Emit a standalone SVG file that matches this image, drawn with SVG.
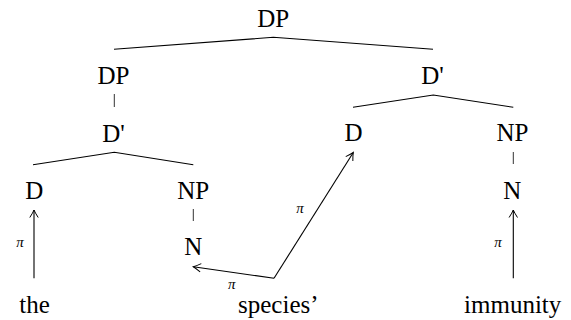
<svg xmlns="http://www.w3.org/2000/svg" width="571" height="320" viewBox="0 0 571 320">
<style>
.t{font-family:"Liberation Serif","DejaVu Serif",serif;font-size:25px;fill:#000;text-anchor:middle}
.p{font-family:"Liberation Serif","DejaVu Serif",serif;font-size:15px;font-style:italic;fill:#000;text-anchor:middle}
.e{stroke:#000;stroke-width:1.1;fill:none}
.k{stroke:#333;stroke-width:1;fill:none}
.a{stroke:#000;stroke-width:1.1;fill:none;marker-end:url(#ah)}
</style>
<defs>
<marker id="ah" markerUnits="userSpaceOnUse" markerWidth="20" markerHeight="20" viewBox="-10 -10 20 20" refX="0" refY="0" orient="auto">
<path d="M -7.5 -4.2 Q -2.5 -1 0 0 Q -2.5 1 -7.5 4.2" stroke="#000" stroke-width="1" fill="none"/>
</marker>
</defs>
<g id="connectors">
<path class="e" d="M114 49.3 L273.3 37.3 L433 49.3"/>
<path class="e" d="M353 107.3 L433.3 95 L513.3 107.3"/>
<path class="e" d="M33 164.7 L114.3 152.3 L193.3 164.7"/>
<line class="k" x1="114.3" y1="94" x2="114.3" y2="107"/>
<line class="k" x1="193.3" y1="209" x2="193.3" y2="221"/>
<line class="k" x1="513.3" y1="152" x2="513.3" y2="164"/>
<line class="a" x1="34" y1="278.3" x2="34" y2="210"/>
<line class="a" x1="513.3" y1="278.3" x2="513.3" y2="210"/>
<line class="a" x1="274" y1="278.3" x2="193.3" y2="266.7"/>
<line class="a" x1="274" y1="278.3" x2="353.3" y2="152.5"/>
<text class="p" x="20" y="247">π</text>
<text class="p" x="498" y="247">π</text>
<text class="p" x="231.7" y="288.5">π</text>
<text class="p" x="300" y="213">π</text>
</g>
<g id="n-dp-root"><text class="t" x="273.3" y="27">DP</text></g>
<g id="n-dp-left"><text class="t" x="113.5" y="84">DP</text></g>
<g id="n-dbar-right"><text class="t" x="432.5" y="84">D'</text></g>
<g id="n-dbar-left"><text class="t" x="113.5" y="141.5">D'</text></g>
<g id="n-d-right"><text class="t" x="353.5" y="141">D</text></g>
<g id="n-np-right"><text class="t" x="512.5" y="141">NP</text></g>
<g id="n-d-left"><text class="t" x="34.3" y="199">D</text></g>
<g id="n-np-left"><text class="t" x="193.3" y="198.5">NP</text></g>
<g id="n-n-left"><text class="t" x="193.3" y="255">N</text></g>
<g id="n-n-right"><text class="t" x="512.3" y="198.5">N</text></g>
<g id="w-the"><text class="t" x="34.5" y="313">the</text></g>
<g id="w-species"><text class="t" x="278.3" y="313">species’</text></g>
<g id="w-immunity"><text class="t" x="512.7" y="313">immunity</text></g>
</svg>
